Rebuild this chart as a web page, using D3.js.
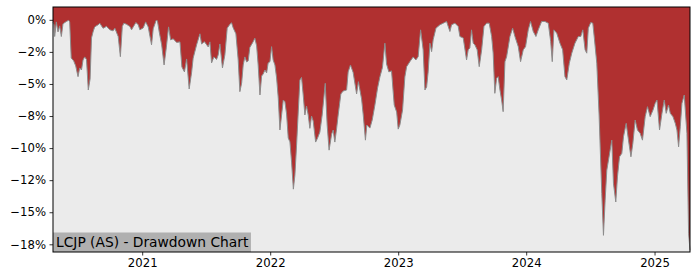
<!DOCTYPE html>
<html>
<head>
<meta charset="utf-8">
<script src="https://cdn.jsdelivr.net/npm/d3@7"></script>
<style>
  body { margin: 0; background: #fff; }
  svg text { font-family: "DejaVu Sans", sans-serif; }
</style>
</head>
<body>
<script>
// dates as decimal years, drawdown in percent
var years = [
  2020.305, 2020.313, 2020.318, 2020.331, 2020.344, 2020.357, 2020.370, 2020.383, 2020.409, 2020.427,
  2020.435, 2020.447, 2020.466, 2020.482, 2020.500, 2020.513, 2020.527, 2020.539, 2020.552, 2020.566,
  2020.580, 2020.594, 2020.605, 2020.617, 2020.630, 2020.656, 2020.670, 2020.695, 2020.722, 2020.748,
  2020.773, 2020.787, 2020.813, 2020.830, 2020.845, 2020.857, 2020.878, 2020.904, 2020.917, 2020.930,
  2020.951, 2020.969, 2020.982, 2021.008, 2021.027, 2021.047, 2021.073, 2021.086, 2021.109, 2021.119,
  2021.133, 2021.152, 2021.171, 2021.188, 2021.206, 2021.222, 2021.242, 2021.269, 2021.295, 2021.310,
  2021.330, 2021.347, 2021.367, 2021.386, 2021.398, 2021.425, 2021.451, 2021.464, 2021.486, 2021.516,
  2021.529, 2021.542, 2021.560, 2021.581, 2021.594, 2021.607, 2021.627, 2021.646, 2021.664, 2021.685,
  2021.698, 2021.711, 2021.732, 2021.750, 2021.763, 2021.777, 2021.789, 2021.802, 2021.816, 2021.828,
  2021.841, 2021.867, 2021.880, 2021.894, 2021.906, 2021.920, 2021.933, 2021.945, 2021.959, 2021.972,
  2021.984, 2021.998, 2022.011, 2022.023, 2022.037, 2022.050, 2022.063, 2022.076, 2022.089, 2022.102,
  2022.115, 2022.128, 2022.141, 2022.154, 2022.167, 2022.181, 2022.193, 2022.206, 2022.219, 2022.232,
  2022.245, 2022.258, 2022.271, 2022.284, 2022.297, 2022.310, 2022.323, 2022.336, 2022.355, 2022.370,
  2022.388, 2022.406, 2022.430, 2022.445, 2022.460, 2022.480, 2022.492, 2022.505, 2022.519, 2022.531,
  2022.552, 2022.570, 2022.597, 2022.609, 2022.627, 2022.648, 2022.675, 2022.689, 2022.714, 2022.727,
  2022.744, 2022.755, 2022.779, 2022.797, 2022.818, 2022.839, 2022.857, 2022.877, 2022.896, 2022.909,
  2022.927, 2022.948, 2022.969, 2022.988, 2023.000, 2023.013, 2023.034, 2023.052, 2023.066, 2023.091,
  2023.117, 2023.138, 2023.156, 2023.175, 2023.195, 2023.209, 2023.222, 2023.234, 2023.248, 2023.261,
  2023.273, 2023.295, 2023.326, 2023.352, 2023.378, 2023.404, 2023.417, 2023.443, 2023.469, 2023.482,
  2023.508, 2023.534, 2023.547, 2023.560, 2023.573, 2023.586, 2023.599, 2023.617, 2023.633, 2023.652,
  2023.670, 2023.691, 2023.711, 2023.730, 2023.742, 2023.755, 2023.769, 2023.781, 2023.795, 2023.808,
  2023.820, 2023.834, 2023.847, 2023.873, 2023.894, 2023.912, 2023.938, 2023.956, 2023.977, 2023.995,
  2024.016, 2024.034, 2024.055, 2024.076, 2024.094, 2024.120, 2024.146, 2024.172, 2024.191, 2024.203,
  2024.216, 2024.238, 2024.263, 2024.284, 2024.302, 2024.316, 2024.336, 2024.355, 2024.380, 2024.406,
  2024.425, 2024.441, 2024.459, 2024.472, 2024.484, 2024.503, 2024.519, 2024.531, 2024.550, 2024.568,
  2024.589, 2024.602, 2024.615, 2024.628, 2024.654, 2024.667, 2024.680, 2024.698, 2024.711, 2024.727,
  2024.745, 2024.758, 2024.779, 2024.797, 2024.816, 2024.831, 2024.849, 2024.867, 2024.888, 2024.906,
  2024.927, 2024.945, 2024.966, 2024.988, 2025.005, 2025.019, 2025.039, 2025.058, 2025.076, 2025.091,
  2025.109, 2025.123, 2025.144, 2025.162, 2025.175, 2025.188, 2025.201, 2025.214, 2025.232, 2025.253,
  2025.266, 2025.277
];

var drawdown = [
  -0.16, -0.39, -1.30, -0.16, -0.94, -0.47, -1.30, -0.31, -0.13, -0.04,
  -0.16, -2.97, -3.20, -3.59, -4.43, -3.75, -3.91, -3.13, -2.89, -3.09,
  -5.47, -4.61, -1.41, -0.94, -0.55, -0.39, -0.27, -0.66, -0.51, -0.78,
  -0.86, -0.66, -1.30, -2.87, -0.52, -0.26, -0.35, -0.52, -0.78, -0.55,
  -0.21, -0.39, -0.78, -0.63, -0.16, -0.55, -1.95, -0.70, -0.04, -0.08,
  -0.94, -1.95, -3.52, -2.19, -0.55, -1.56, -1.48, -1.76, -1.72, -3.67,
  -4.06, -3.05, -5.39, -4.10, -2.99, -1.95, -1.09, -1.88, -1.70, -2.11,
  -1.72, -3.36, -2.89, -3.09, -2.73, -1.88, -3.75, -2.73, -0.65, -0.35,
  -0.23, -0.63, -1.09, -3.13, -5.60, -4.92, -3.52, -2.89, -3.28, -3.20,
  -2.15, -1.70, -1.43, -2.03, -3.52, -5.86, -4.38, -4.22, -3.91, -4.14,
  -3.36, -3.26, -2.09, -3.13, -3.52, -4.53, -6.09, -8.59, -7.42, -6.25,
  -6.38, -7.34, -9.22, -9.51, -11.09, -13.20, -12.11, -9.77, -7.19, -4.69,
  -4.49, -5.86, -7.42, -6.72, -7.42, -8.46, -7.50, -7.89, -9.53, -9.22,
  -8.75, -7.42, -4.95, -8.20, -10.16, -8.91, -8.59, -9.53, -8.46, -7.42,
  -5.78, -5.55, -5.47, -4.06, -3.52, -4.10, -5.78, -4.82, -6.17, -7.42,
  -9.38, -8.20, -8.44, -7.81, -6.64, -5.31, -4.45, -3.71, -1.82, -3.44,
  -4.06, -3.98, -6.64, -7.19, -8.52, -8.20, -7.03, -4.45, -3.65, -3.26,
  -2.89, -3.13, -2.87, -0.78, -2.34, -5.47, -5.23, -4.06, -1.82, -2.48,
  -1.56, -0.65, -0.39, -0.26, -0.13, -0.91, -0.39, -0.26, -0.52, -1.30,
  -1.41, -3.13, -2.34, -2.19, -0.78, -1.82, -1.95, -2.34, -3.65, -2.34,
  -0.52, -0.26, -0.26, -1.30, -2.60, -5.73, -4.55, -4.43, -5.47, -6.25,
  -7.16, -3.26, -2.87, -1.30, -0.65, -1.30, -2.09, -3.26, -2.34, -2.09,
  -0.78, -0.13, -0.91, -1.30, -0.78, -0.13, -0.13, -0.26, -1.70, -3.26,
  -0.78, -1.04, -1.82, -2.34, -4.43, -4.69, -3.38, -2.60, -1.82, -1.30,
  -1.30, -0.78, -2.34, -2.60, -0.65, -0.21, -0.26, -1.43, -3.38, -7.42,
  -13.54, -16.80, -14.06, -11.72, -10.16, -9.38, -12.76, -14.20, -12.24, -10.68,
  -10.41, -9.12, -8.07, -9.38, -10.68, -9.63, -7.81, -8.59, -8.85, -9.38,
  -7.55, -6.77, -7.55, -7.03, -6.51, -6.25, -8.59, -7.29, -6.25, -7.29,
  -6.64, -7.29, -7.55, -8.07, -8.59, -9.90, -8.34, -6.51, -5.86, -8.85,
  -16.64, -17.97
];

var yTicks = [0, -2.5, -5, -7.5, -10, -12.5, -15, -17.5];
var yTickLabels = ["0%", "\u22122%", "\u22125%", "\u22128%", "\u221210%", "\u221212%", "\u221215%", "\u221218%"];
var xTickYears = [2021, 2022, 2023, 2024, 2025];
var title = "LCJP (AS) - Drawdown Chart";

function toDate(y) {
    var yr = Math.floor(y);
    var start = new Date(yr, 0, 1), end = new Date(yr + 1, 0, 1);
    return new Date(start.getTime() + (y - yr) * (end - start));
}

var dataSet = years.map(function(y, i) { return {date: toDate(y), dd: drawdown[i]}; });

var margin = {top: 7, right: 10, bottom: 28, left: 53};
var width = 700 - margin.left - margin.right;
var height = 280 - margin.top - margin.bottom;

var xScale = d3.scaleTime()
    .domain(d3.extent(dataSet, function(d) { return d.date; }))
    .range([0, width]);

var yScale = d3.scaleLinear().domain([-18.1, 1.0]).range([height, 0]);

var svg = d3.select("body").append("svg")
    .attr("width", 700)
    .attr("height", 280)
    .append("g")
    .attr("transform", "translate(" + margin.left + "," + margin.top + ")");

svg.append("rect")
    .attr("width", width)
    .attr("height", height)
    .attr("fill", "#ebebeb");

var area = d3.area()
    .x(function(d) { return xScale(d.date); })
    .y0(yScale(yScale.domain()[1]))
    .y1(function(d) { return yScale(d.dd); });

svg.append("path")
    .datum(dataSet)
    .attr("d", area)
    .attr("fill", "#b03030");

var line = d3.line()
    .x(function(d) { return xScale(d.date); })
    .y(function(d) { return yScale(d.dd); });

svg.append("path")
    .datum(dataSet)
    .attr("d", line)
    .attr("fill", "none")
    .attr("stroke", "#8c8c8c")
    .attr("stroke-width", 1);

var xAxis = d3.axisBottom(xScale)
    .tickValues(xTickYears.map(function(y) { return new Date(y, 0, 1); }))
    .tickFormat(d3.timeFormat("%Y"))
    .tickSize(3.5)
    .tickPadding(3.5);

var yAxis = d3.axisLeft(yScale)
    .tickValues(yTicks)
    .tickFormat(function(d, i) { return yTickLabels[i]; })
    .tickSize(3.5)
    .tickPadding(3.5);

svg.append("g")
    .attr("class", "x axis")
    .attr("transform", "translate(0," + height + ")")
    .call(xAxis);

svg.append("g")
    .attr("class", "y axis")
    .call(yAxis);

svg.selectAll(".axis .domain").remove();
svg.selectAll(".axis text").attr("font-size", 11.7).attr("fill", "#000").attr("font-family", "DejaVu Sans");
svg.selectAll(".axis line").attr("stroke", "#000").attr("stroke-width", 0.8);

// label box in lower-left corner
var label = svg.append("g");
var labelText = label.append("text")
    .attr("x", 3)
    .attr("y", height - 5)
    .attr("font-size", 13.8)
    .attr("fill", "#000")
    .text(title);
var bb = labelText.node().getBBox();
label.insert("rect", "text")
    .attr("x", 0)
    .attr("y", height - 19.5)
    .attr("width", bb.width + 5)
    .attr("height", 19.5)
    .attr("fill", "#b0b0b0");

svg.append("rect")
    .attr("width", width)
    .attr("height", height)
    .attr("fill", "none")
    .attr("stroke", "#000")
    .attr("stroke-width", 1);
</script>
</body>
</html>
